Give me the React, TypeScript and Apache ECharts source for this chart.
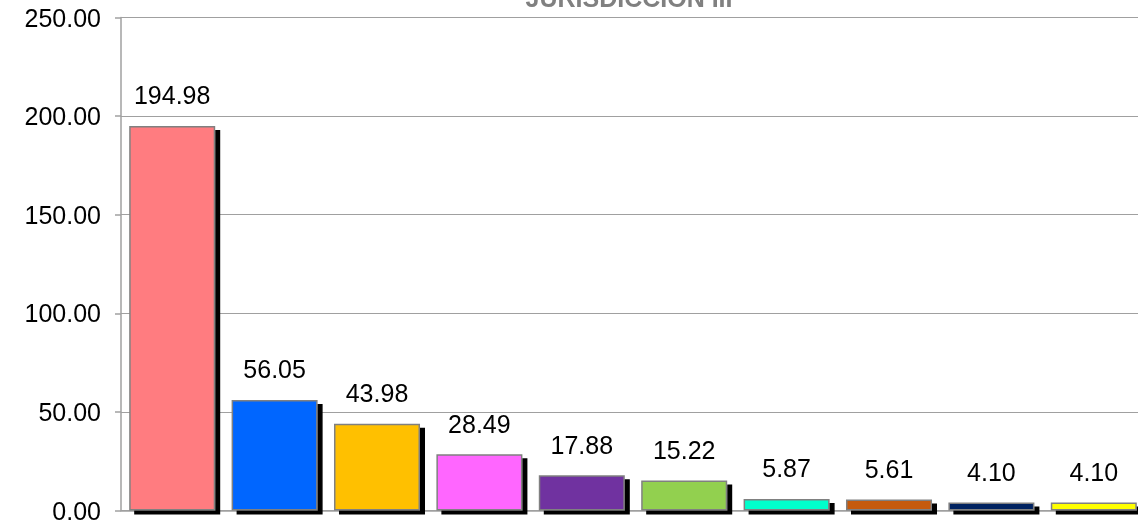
import React, { useEffect, useRef } from "react";
import * as echarts from "echarts";

const categories = ["C1", "C2", "C3", "C4", "C5", "C6", "C7", "C8", "C9", "C10"];
const values = [194.98, 56.05, 43.98, 28.49, 17.88, 15.22, 5.87, 5.61, 4.1, 4.1];
const colors = ["#FF7C80", "#0066FF", "#FFC000", "#FF66FF", "#7030A0", "#92D050", "#00FFCC", "#C55A11", "#002060", "#FFFF00"];
const titleText = "JURISDICCIÓN III";

export default function App() {
  const ref = useRef<HTMLDivElement>(null);
  useEffect(() => {
    const chart = echarts.init(ref.current!, null, { renderer: "svg" });
    chart.setOption({
      animation: false,
      title: {
        text: titleText,
        left: 624,
        textAlign: "center",
        top: -20,
        textStyle: { color: "#808080", fontWeight: "bold", fontSize: 25, fontFamily: "Liberation Sans, Arial" },
      },
      grid: { left: 121, right: 0, top: 17.5, bottom: 11, containLabel: false },
      xAxis: {
        type: "category",
        data: categories,
        axisLabel: { show: false },
        axisTick: { show: false },
        axisLine: { show: true, lineStyle: { color: "#A0A0A0", width: 1.5 } },
      },
      yAxis: {
        type: "value",
        min: 0,
        max: 250,
        interval: 50,
        axisLine: { show: true, lineStyle: { color: "#A0A0A0", width: 1.5 } },
        axisTick: { show: true, length: 6, lineStyle: { color: "#A0A0A0", width: 1.5 } },
        splitLine: { show: true, lineStyle: { color: "#A0A0A0", width: 1 } },
        axisLabel: {
          margin: 20,
          color: "#000",
          fontSize: 25,
          fontFamily: "Liberation Sans, Arial",
          formatter: (v: number) => v.toFixed(2),
        },
      },
      series: [
        {
          type: "bar",
          data: values.map((v, i) => ({ value: v, itemStyle: { color: colors[i] } })),
          barCategoryGap: "16%",
          itemStyle: {
            borderColor: "#808080",
            borderWidth: 1.5,
            shadowColor: "#000",
            shadowBlur: 0,
            shadowOffsetX: 5,
            shadowOffsetY: 4,
          },
          label: {
            show: true,
            position: "top",
            distance: 18,
            color: "#000",
            fontSize: 25,
            fontFamily: "Liberation Sans, Arial",
            formatter: (p: any) => Number(p.value).toFixed(2),
          },
        },
      ],
    });
    return () => chart.dispose();
  }, []);
  return <div ref={ref} style={{ position: "fixed", left: 0, top: 0, width: 1145, height: 523 }} />;
}
